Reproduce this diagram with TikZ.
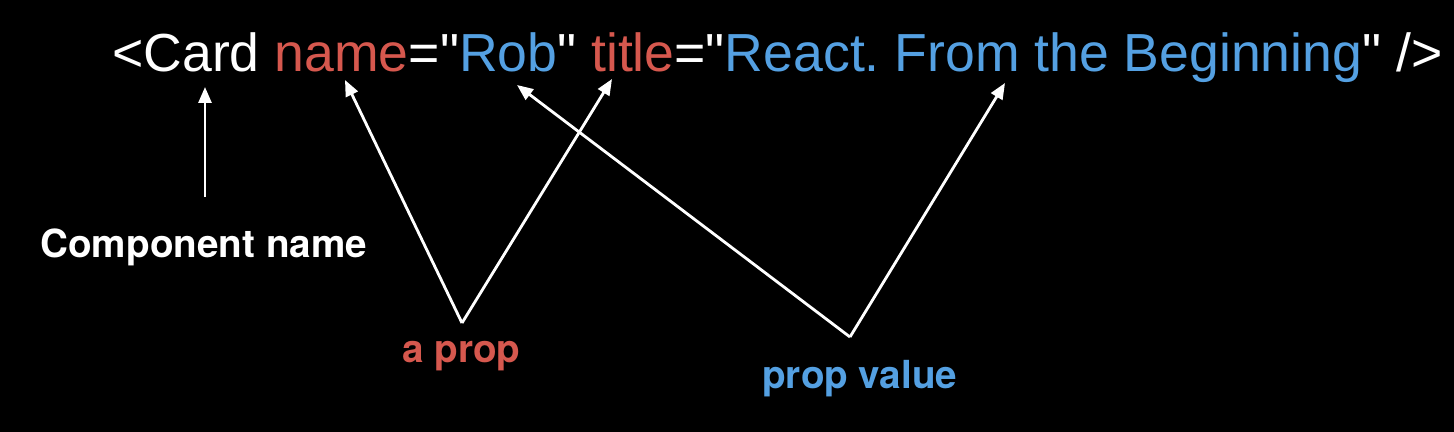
\documentclass[tikz,border=0pt]{standalone}
\usepackage{fontspec}
\setmainfont{TeX Gyre Heros}
\newfontfamily\codefont{Liberation Sans}[Ligatures=TeXOff]
\usetikzlibrary{arrows.meta}
\frenchspacing

\definecolor{propred}{RGB}{214,88,78}
\definecolor{valblue}{RGB}{84,160,226}

\begin{document}
\begin{tikzpicture}[
    x=0.02cm, y=-0.02cm,
    >={Triangle[length=0.32cm, width=0.26cm]},
    code/.style = {anchor=base west, inner sep=0pt, text=white, font=\codefont\fontsize{30.5}{36}\selectfont},
    caption/.style = {anchor=base west, inner sep=0pt, font=\fontsize{22}{26}\selectfont\bfseries},
    arrow/.style = {->, white, line width=1.6pt}
]

% background
\fill[black] (0,0) rectangle (1454,432);
\useasboundingbox (0,0) rectangle (1454,432);

% =========================================================
% THE JSX LINE
% =========================================================
\node[code] (jsx) at (112,72)
    {<Card \textcolor{propred}{name}="\textcolor{valblue}{Rob}" \textcolor{propred}{title}="\textcolor{valblue}{React. From the Beginning}" />};

% Arrow tips under the words
\coordinate (cardTip) at (205,87);
\coordinate (nameTip) at (345,80);
\coordinate (robTip) at (517,85);
\coordinate (titleTip) at (612,79);
\coordinate (reactTip) at (1005,83);

% =========================================================
% CAPTIONS
% =========================================================
\node[caption, text=white] (comp) at (40,258) {Component name};
\node[caption, text=propred] (prop) at (402,362) {a prop};
\node[caption, text=valblue] (value) at (762,388) {prop value};

% Where the arrows meet
\coordinate (compTail) at (205,197);
\coordinate (propJoin) at (462,323);
\coordinate (valueJoin) at (850,337);

% =========================================================
% WIRING
% =========================================================
\draw[arrow] (compTail) -- (cardTip);

\draw[arrow] (propJoin) -- (nameTip);
\draw[arrow] (propJoin) -- (titleTip);

\draw[arrow] (valueJoin) -- (robTip);
\draw[arrow] (valueJoin) -- (reactTip);

\end{tikzpicture}
\end{document}
